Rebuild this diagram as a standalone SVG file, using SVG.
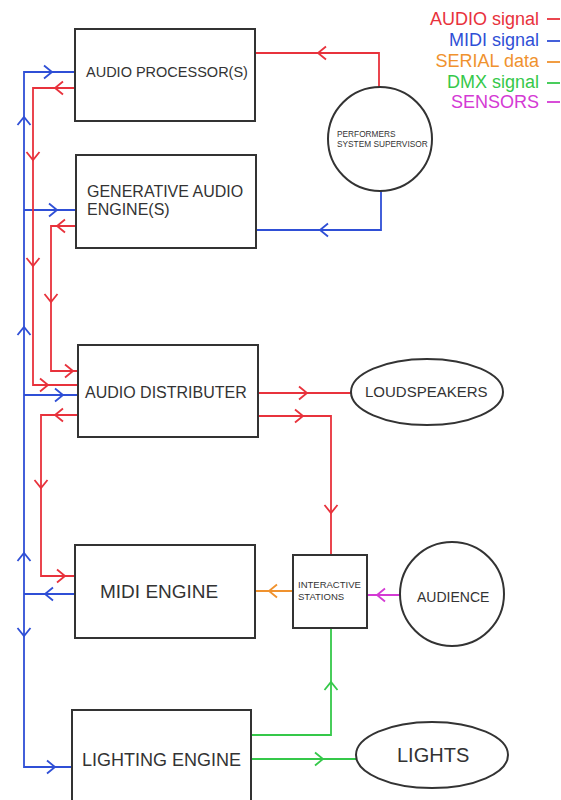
<svg xmlns="http://www.w3.org/2000/svg" width="561" height="800" viewBox="0 0 561 800">
<style>
.box{fill:#fff;stroke:#333;stroke-width:2}
.t{font-family:"Liberation Sans",Arial,sans-serif;fill:#333}
.c{fill:none;stroke-width:1.8;stroke-linejoin:miter}
.r{stroke:#e8323c}.b{stroke:#2f4fd6}.o{stroke:#f0922e}.g{stroke:#35c84a}.m{stroke:#d43ad4}
.leg{font-family:"Liberation Sans",Arial,sans-serif;font-size:18px;text-anchor:end}
</style>
<defs>
<marker id="aR" markerUnits="userSpaceOnUse" markerWidth="20" markerHeight="20" viewBox="-10 -10 20 20" refX="0" refY="0" orient="auto"><path d="M-8,-6.5 L0,0 L-8,6.5" fill="none" stroke="#e8323c" stroke-width="1.8"/></marker>
<marker id="aB" markerUnits="userSpaceOnUse" markerWidth="20" markerHeight="20" viewBox="-10 -10 20 20" refX="0" refY="0" orient="auto"><path d="M-8,-6.5 L0,0 L-8,6.5" fill="none" stroke="#2f4fd6" stroke-width="1.8"/></marker>
<marker id="aO" markerUnits="userSpaceOnUse" markerWidth="20" markerHeight="20" viewBox="-10 -10 20 20" refX="0" refY="0" orient="auto"><path d="M-8,-6.5 L0,0 L-8,6.5" fill="none" stroke="#f0922e" stroke-width="1.8"/></marker>
<marker id="aG" markerUnits="userSpaceOnUse" markerWidth="20" markerHeight="20" viewBox="-10 -10 20 20" refX="0" refY="0" orient="auto"><path d="M-8,-6.5 L0,0 L-8,6.5" fill="none" stroke="#35c84a" stroke-width="1.8"/></marker>
<marker id="aM" markerUnits="userSpaceOnUse" markerWidth="20" markerHeight="20" viewBox="-10 -10 20 20" refX="0" refY="0" orient="auto"><path d="M-8,-6.5 L0,0 L-8,6.5" fill="none" stroke="#d43ad4" stroke-width="1.8"/></marker>
</defs>
<rect width="561" height="800" fill="#fff"/>

<g id="legend">
<text class="leg" x="539" y="25" fill="#e8323c">AUDIO signal</text>
<text class="leg" x="539" y="46" fill="#2f4fd6">MIDI signal</text>
<text class="leg" x="539" y="67" fill="#f0922e">SERIAL data</text>
<text class="leg" x="539" y="88" fill="#35c84a">DMX signal</text>
<text class="leg" x="539" y="108" fill="#d43ad4">SENSORS</text>
<path class="c r" d="M547,19 H560"/>
<path class="c b" d="M547,41 H560"/>
<path class="c o" d="M547,62 H560"/>
<path class="c g" d="M547,83 H560"/>
<path class="c m" d="M547,102 H560"/>
</g>

<g id="connectors">
<!-- blue trunk -->
<path class="c b" d="M75,72 H24 V767 H72"/>
<path class="c b" d="M24,210 H76"/>
<path class="c b" d="M24,395 H78"/>
<path class="c b" d="M75,594 H24"/>
<path class="c b" d="M381,191 V230 H256"/>
<path class="c b" d="M51,72 H52" marker-end="url(#aB)"/>
<path class="c b" d="M56,210 H57" marker-end="url(#aB)"/>
<path class="c b" d="M62,395 H63" marker-end="url(#aB)"/>
<path class="c b" d="M46,594 H45" marker-end="url(#aB)"/>
<path class="c b" d="M54,767 H55" marker-end="url(#aB)"/>
<path class="c b" d="M24,118 V117" marker-end="url(#aB)"/>
<path class="c b" d="M24,328 V327" marker-end="url(#aB)"/>
<path class="c b" d="M24,554 V553" marker-end="url(#aB)"/>
<path class="c b" d="M24,635 V636" marker-end="url(#aB)"/>
<path class="c b" d="M321,230 H320" marker-end="url(#aB)"/>
<!-- red -->
<path class="c r" d="M379,87 V53 H255"/>
<path class="c r" d="M319,53 H318" marker-end="url(#aR)"/>
<path class="c r" d="M75,88 H33 V385 H78"/>
<path class="c r" d="M56,88 H55" marker-end="url(#aR)"/>
<path class="c r" d="M33,159 V160" marker-end="url(#aR)"/>
<path class="c r" d="M33,265 V266" marker-end="url(#aR)"/>
<path class="c r" d="M47,385 H48" marker-end="url(#aR)"/>
<path class="c r" d="M76,226 H51 V371 H78"/>
<path class="c r" d="M58,226 H57" marker-end="url(#aR)"/>
<path class="c r" d="M51,301 V302" marker-end="url(#aR)"/>
<path class="c r" d="M72,371 H73" marker-end="url(#aR)"/>
<path class="c r" d="M78,415 H41 V576 H75"/>
<path class="c r" d="M56,415 H55" marker-end="url(#aR)"/>
<path class="c r" d="M41,487 V488" marker-end="url(#aR)"/>
<path class="c r" d="M64,576 H65" marker-end="url(#aR)"/>
<path class="c r" d="M258,393 H351"/>
<path class="c r" d="M306,393 H307" marker-end="url(#aR)"/>
<path class="c r" d="M258,416 H331 V555"/>
<path class="c r" d="M302,416 H303" marker-end="url(#aR)"/>
<path class="c r" d="M331,512 V513" marker-end="url(#aR)"/>
<!-- orange -->
<path class="c o" d="M293,591 H255"/>
<path class="c o" d="M270,591 H269" marker-end="url(#aO)"/>
<!-- magenta -->
<path class="c m" d="M400,595 H367"/>
<path class="c m" d="M378,595 H377" marker-end="url(#aM)"/>
<!-- green -->
<path class="c g" d="M251,735 H331 V628"/>
<path class="c g" d="M331,683 V682" marker-end="url(#aG)"/>
<path class="c g" d="M251,759 H356"/>
<path class="c g" d="M322,759 H323" marker-end="url(#aG)"/>
</g>

<g id="audio-processor">
<rect class="box" x="75" y="29" width="180" height="92"/>
<text class="t" x="86" y="77" font-size="14.5">AUDIO PROCESSOR(S)</text>
</g>
<g id="generative-audio-engine">
<rect class="box" x="76" y="155" width="180" height="93"/>
<text class="t" x="87" y="197" font-size="16">GENERATIVE AUDIO</text>
<text class="t" x="87" y="215" font-size="16">ENGINE(S)</text>
</g>
<g id="audio-distributer">
<rect class="box" x="78" y="345" width="180" height="92"/>
<text class="t" x="85" y="398" font-size="16">AUDIO DISTRIBUTER</text>
</g>
<g id="midi-engine">
<rect class="box" x="75" y="545" width="180" height="93"/>
<text class="t" x="100" y="598" font-size="19">MIDI ENGINE</text>
</g>
<g id="lighting-engine">
<rect class="box" x="72" y="710" width="179" height="100"/>
<text class="t" x="82" y="766" font-size="18">LIGHTING ENGINE</text>
</g>
<g id="interactive-stations">
<rect class="box" x="293" y="555" width="74" height="73"/>
<text class="t" x="298" y="588" font-size="9.5">INTERACTIVE</text>
<text class="t" x="298" y="600" font-size="9.5">STATIONS</text>
</g>
<g id="performers-system-supervisor">
<circle class="box" cx="380" cy="139" r="52"/>
<text class="t" x="337" y="137" font-size="8.3">PERFORMERS</text>
<text class="t" x="337" y="147" font-size="8.3">SYSTEM SUPERVISOR</text>
</g>
<g id="loudspeakers">
<ellipse class="box" cx="427" cy="392" rx="76" ry="33"/>
<text class="t" x="365" y="397" font-size="15">LOUDSPEAKERS</text>
</g>
<g id="audience">
<circle class="box" cx="452" cy="594" r="52"/>
<text class="t" x="417" y="602" font-size="14">AUDIENCE</text>
</g>
<g id="lights">
<ellipse class="box" cx="432" cy="755" rx="76" ry="33"/>
<text class="t" x="397" y="762" font-size="20">LIGHTS</text>
</g>
</svg>
